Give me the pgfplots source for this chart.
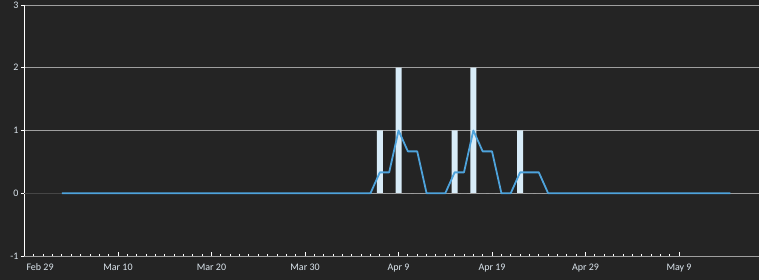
\documentclass[border=0pt]{standalone}
\usepackage{pgfplots}
\pgfplotsset{compat=1.18}
\usepackage{fontspec}
\setmainfont{Carlito}
\definecolor{bg}{HTML}{242424}
\definecolor{lineblue}{HTML}{4EA3DC}
\definecolor{barblue}{HTML}{D8ECF8}
\definecolor{lab}{HTML}{DCE6EE}
\begin{document}
\begin{tikzpicture}[x=1pt,y=1pt]
\fill[bg] (0,0) rectangle (759,280);
\useasboundingbox (0,0) rectangle (759,280);
\begin{axis}[
  at={(24.5pt,24pt)}, anchor=south west,
  scale only axis, width=734.5pt, height=251pt,
  xmin=0, xmax=78.55, ymin=-1, ymax=3,
  axis y line=left, axis x line=bottom,
  y axis line style={draw=white, line width=0.9pt, -},
  x axis line style={draw=none, -},
  ytick={-1,0,1,2,3},
  xtick={0,10,20,30,40,50,60,70},
  xticklabels={\makebox[0pt][l]{\hspace*{2pt}Feb 29},Mar 10,Mar 20,Mar 30,Apr 9,Apr 19,Apr 29,May 9},
  minor x tick num=9,
  x tick style={draw=white, line width=0.9pt},
  xtick align=inside,
  ytick align=outside,
  y tick style={draw=white, line width=0.8pt},
  major tick length=3.5pt, minor tick length=1.6pt,
  tick label style={font=\fontsize{10}{11}\selectfont, text=lab},
  /pgf/number format/assume math mode=true,
  xticklabel style={yshift=-4pt},
  yticklabel style={xshift=1pt},
  ymajorgrids, grid style={draw=gray!75!white, line width=0.7pt},
  clip=false,
]
\addplot[draw=gray!55!black, line width=0.8pt, forget plot] coordinates {(0,0) (4,0)};
\addplot[ybar, bar width=6pt, fill=barblue, draw=none, forget plot] coordinates {
  (38,1) (40,2) (46,1) (48,2) (53,1)};
\addplot[draw=gray!80!white, line width=0.9pt, dash pattern=on 6pt off 3.35pt, forget plot] coordinates {(37.7,0) (56.3,0)};
\addplot[draw=lineblue, line width=1.8pt, line join=round] coordinates {
  (4,0) (37,0) (38,0.333) (39,0.333) (40,1) (41,0.667) (42,0.667) (43,0) (44,0) (45,0)
  (46,0.333) (47,0.333) (48,1) (49,0.667) (50,0.667) (51,0) (52,0)
  (53,0.333) (54,0.333) (55,0.333) (56,0) (75.5,0)};
\end{axis}
\end{tikzpicture}
\end{document}
